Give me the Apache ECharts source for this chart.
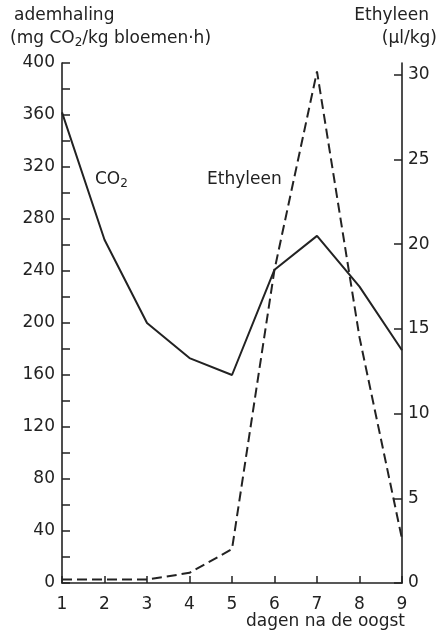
<!DOCTYPE html>
<html>
<head>
<meta charset="utf-8">
<script src="https://cdn.jsdelivr.net/npm/echarts@6/dist/echarts.min.js"></script>
<style>
html,body{margin:0;padding:0;background:#fff;}
#c{width:442px;height:635px;}
</style>
</head>
<body>
<div id="c"></div>
<script>
// Data
const days = ['1','2','3','4','5','6','7','8','9'];
const co2 = [362, 264, 200, 173, 160, 241, 267, 228, 179];
const ethylene = [0.2, 0.2, 0.2, 0.6, 2.0, 18.5, 30.2, 14.5, 2.6];
const leftTicks = [0, 40, 80, 120, 160, 200, 240, 280, 320, 360, 400];
const rightTicks = [0, 5, 10, 15, 20, 25, 30];

const FONT = 'DejaVu Sans';
const INK = '#222';

const chart = echarts.init(document.getElementById('c'), null, {renderer: 'canvas'});
chart.setOption({
  animation: false,
  backgroundColor: '#fff',
  grid: {left: 62, right: 40, top: 63, bottom: 52},
  xAxis: {
    type: 'category',
    data: days,
    boundaryGap: false,
    axisLine: {lineStyle: {color: INK, width: 1.6}},
    axisTick: {inside: true, length: 7, alignWithLabel: true, lineStyle: {color: INK, width: 1.5}},
    axisLabel: {color: INK, fontFamily: FONT, fontSize: 17, margin: 13},
    splitLine: {show: false}
  },
  yAxis: [
    {
      type: 'value',
      min: 0, max: 400, interval: 20,
      position: 'left',
      axisLine: {show: true, lineStyle: {color: INK, width: 1.6}},
      axisTick: {show: true, inside: true, length: 8, lineStyle: {color: INK, width: 1.5}},
      axisLabel: {
        color: INK, fontFamily: FONT, fontSize: 17, margin: 7,
        formatter: v => leftTicks.indexOf(v) >= 0 ? String(v) : ''
      },
      splitLine: {show: false}
    },
    {
      type: 'value',
      min: 0, max: 30.7,
      position: 'right',
      axisLine: {show: true, lineStyle: {color: INK, width: 1.6}},
      axisTick: {show: true, inside: true, length: 8, customValues: rightTicks, lineStyle: {color: INK, width: 1.5}},
      axisLabel: {color: INK, fontFamily: FONT, fontSize: 17, margin: 6, customValues: rightTicks},
      splitLine: {show: false}
    }
  ],
  series: [
    {
      name: 'CO2', type: 'line', yAxisIndex: 0, data: co2,
      symbol: 'none', lineStyle: {color: INK, width: 2}
    },
    {
      name: 'Ethyleen', type: 'line', yAxisIndex: 1, data: ethylene,
      symbol: 'none', lineStyle: {color: INK, width: 2, type: [10, 5]}
    }
  ],
  graphic: [
    {type: 'text', left: 14, top: 7, style: {text: 'ademhaling', font: '17px "DejaVu Sans"', fill: INK}},
    {type: 'text', left: 10, top: 30, style: {
      text: '(mg CO{sub|2}/kg bloemen·h)', font: '17px "DejaVu Sans"', fill: INK,
      rich: {sub: {fontSize: 12, fontFamily: FONT, fill: INK, padding: [8, 0, 0, 0]}}
    }},
    {type: 'text', right: 13, top: 7, style: {text: 'Ethyleen', font: '17px "DejaVu Sans"', fill: INK}},
    {type: 'text', right: 5, top: 30, style: {text: '(µl/kg)', font: '17px "DejaVu Sans"', fill: INK}},
    {type: 'text', left: 95, top: 171, style: {
      text: 'CO{sub|2}', font: '17px "DejaVu Sans"', fill: INK,
      rich: {sub: {fontSize: 12, fontFamily: FONT, fill: INK, padding: [8, 0, 0, 0]}}
    }},
    {type: 'text', left: 207, top: 171, style: {text: 'Ethyleen', font: '17px "DejaVu Sans"', fill: INK}},
    {type: 'text', right: 37, top: 613, style: {text: 'dagen na de oogst', font: '17px "DejaVu Sans"', fill: INK}}
  ]
});
</script>
</body>
</html>
